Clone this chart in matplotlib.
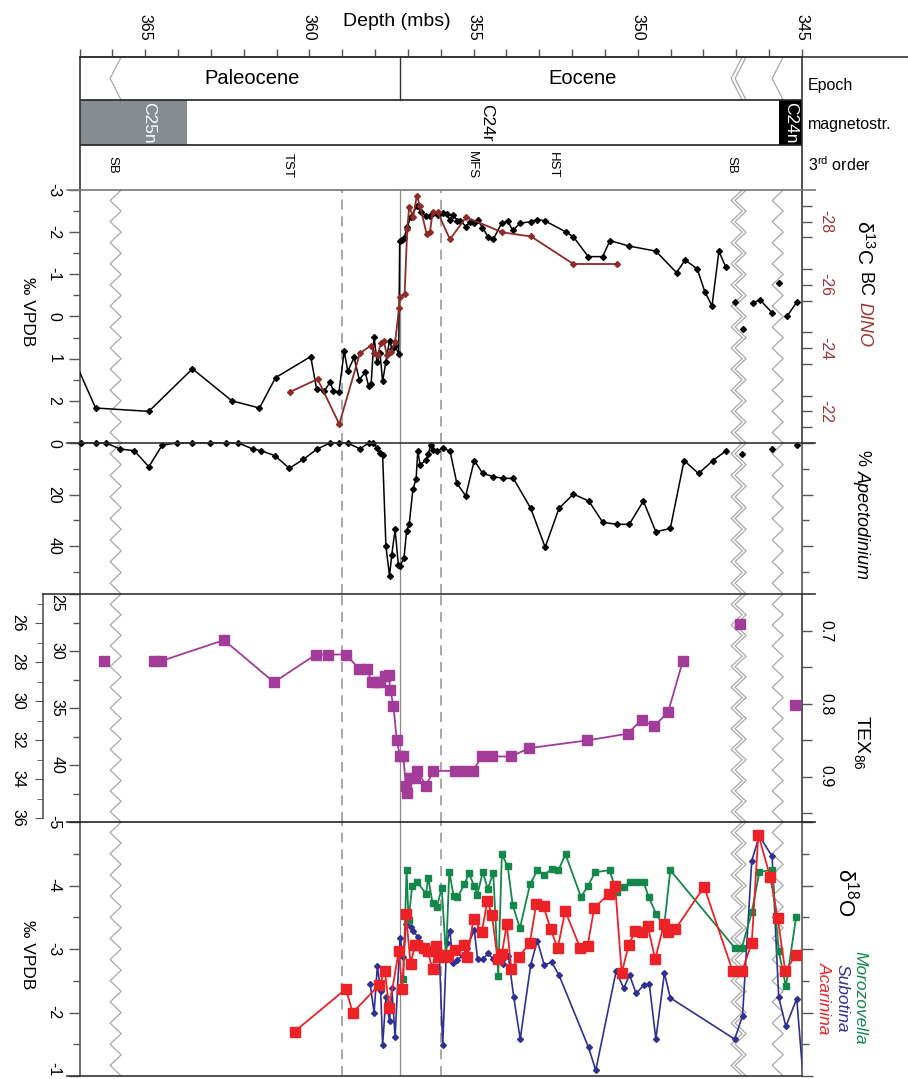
import matplotlib
matplotlib.use('Agg')
import matplotlib.pyplot as plt
import numpy as np
from matplotlib.lines import Line2D
from matplotlib.patches import Rectangle

plt.rcParams['font.family'] = ['Liberation Sans', 'DejaVu Sans']
plt.rcParams['mathtext.fontset'] = 'custom'
plt.rcParams['mathtext.rm'] = 'Liberation Sans'
plt.rcParams['mathtext.it'] = 'Liberation Sans:italic'
plt.rcParams['axes.unicode_minus'] = False

# ---------------- data ----------------
# bulk d13C (black), None = gap in the line
d13c_depth = [367.2, 366.51, 364.89, 363.56, 362.36, 361.52, 361.03, 359.96, 359.78, 359.54,
              359.37, 359.27, 359.10, 358.94, 358.83, 358.64, 358.48, 358.30, 358.20, 358.12,
              358.03, 357.94, 357.85, 357.77, 357.67, 357.56, 357.48, 357.39, 357.28, 357.25,
              357.19, 357.12, 357.02, 356.91, 356.73, 356.61, 356.46, 356.33, 356.23, 356.09,
              355.94, 355.82, 355.72, 355.62, 355.49, 355.40, 355.23, 355.11, 354.98, 354.88,
              354.73, 354.56, 354.40, 354.15, 353.96, 353.81, 353.59, 353.26, 353.06, 352.83,
              352.20, 351.96, 351.51, 351.07, 350.85, 350.26, 349.45, 348.82, 348.56, 348.19,
              347.96, 347.74, 347.53, 347.32, None, 347.04, None, 346.81, None, 346.50,
              346.27, 345.90, None, 345.69, None, 345.46, 345.16]
d13c_value = [0.96, 2.17, 2.25, 1.24, 2.00, 2.17, 1.45, 0.95, 1.72, 1.76,
              1.56, 1.76, 1.79, 0.82, 1.30, 0.97, 1.50, 1.32, 1.64, 1.60,
              0.48, 1.09, 0.87, 1.54, 1.07, 0.57, 0.78, 0.69, 0.89, -1.79,
              -1.82, -1.85, -2.12, -2.37, -2.61, -2.49, -2.39, -2.39, -2.45, -2.41,
              -2.45, -2.42, -2.29, -2.41, -2.27, -2.27, -2.13, -2.25, -2.21, -2.30,
              -2.11, -1.89, -1.83, -2.21, -2.27, -2.04, -2.21, -2.25, -2.30, -2.27,
              -2.01, -1.89, -1.42, -1.42, -1.80, -1.67, -1.55, -1.04, -1.34, -1.13,
              -0.59, -0.25, -1.55, -1.17, None, -0.34, None, 0.29, None, -0.33,
              -0.39, -0.08, None, -0.79, None, 0.00, -0.34]

# d13C of dinocysts (red, right axis)
dino_depth = [360.60, 359.75, 359.09, 358.46, 358.13, 358.03, 357.92, 357.82, 357.74, 357.64,
              357.52, 357.39, 357.27, 357.24, 357.10, 357.02, 356.96, 356.84, 356.73, 356.63,
              356.43, 356.33, 356.25, 356.09, 355.72, 355.23, 354.12, 353.25, 351.96, 350.62]
dino_value = [-22.61, -23.02, -21.60, -23.84, -24.08, -23.84, -23.79, -24.16, -24.24, -23.79,
              -23.87, -24.19, -25.28, -25.61, -25.72, -27.77, -28.47, -28.14, -28.82, -28.49,
              -27.61, -27.66, -28.29, -28.29, -27.44, -28.14, -27.66, -27.53, -26.66, -26.66]

# % Apectodinium
apec_depth = [366.95, 366.51, 366.19, 365.77, 365.33, 364.89, 364.48, 364.04, 363.56, 363.03,
              362.54, 362.16, 361.73, 361.47, 361.05, 360.61, 360.18, 359.76, 359.37, 359.10,
              358.83, 358.46, 358.20, 358.05, 357.93, 357.85, 357.77, 357.67, 357.56, 357.49,
              357.39, 357.29, 357.24, 357.12, 357.04, 356.96, 356.85, 356.75, 356.70, 356.63,
              356.45, 356.38, 356.31, 356.23, 356.11, 355.94, 355.72, 355.51, 355.24, 354.98,
              354.72, 354.40, 354.11, 353.79, 353.26, 352.82, 352.40, 351.96, 351.49, 351.07,
              350.64, 350.26, 349.83, 349.45, 349.01, 348.59, 348.15, 347.71, 347.31, None,
              346.83, None, 345.91, None, 345.15]
apec_value = [0, 0, 0, 2.3, 3.0, 9.2, 0.8, 0, 0, 0,
              0, 0, 2.3, 3.0, 4.9, 9.8, 6.3, 2.3, 0, 0,
              0, 2.3, 0, 0, 2.1, 4.0, 4.7, 39.9, 51.4, 43.2,
              33.5, 47.3, 47.5, 44.7, 34.1, 31.5, 18.0, 14.0, 3.0, 8.5,
              6.6, 4.3, 0.8, 2.7, 3.0, 2.1, 3.0, 15.6, 20.5, 6.8,
              11.8, 13.0, 13.7, 13.7, 25.3, 40.4, 25.3, 19.8, 22.5, 30.7,
              31.5, 31.5, 22.5, 34.4, 33.1, 6.8, 11.8, 6.8, 3.0, None,
              4.3, None, 2.3, None, 0.8]

# TEX86
tex_depth = [366.25, None, 364.73, 364.53, 362.60, 361.08, 359.80, 359.42, 358.88, 358.50,
             358.25, 358.10, 357.95, 357.85, 357.69, 357.59, 357.54, 357.44, 357.34, 357.24,
             357.14, 357.06, 357.02, 356.94, 356.78, 356.71, 356.45, 356.23, 355.57, 355.29,
             355.02, 354.75, 354.43, 353.86, 353.31, 351.54, 350.31, 349.88, 349.51, 349.08,
             348.63, None, 346.88, None, 345.20]
tex_value = [0.7414, None, 0.7414, 0.7414, 0.7124, 0.7703, 0.7322, 0.7322, 0.7322, 0.7515,
             0.7515, 0.7703, 0.7703, 0.7703, 0.7611, 0.7598, 0.7805, 0.8025, 0.8503, 0.8724,
             0.8724, 0.9129, 0.9221, 0.9014, 0.9014, 0.8922, 0.9129, 0.8922, 0.8922, 0.8922,
             0.8922, 0.8724, 0.8724, 0.8724, 0.8609, 0.8503, 0.8411, 0.8218, 0.8310, 0.8117,
             0.7414, None, 0.6899, None, 0.8021]

# d18O Acarinina (red)
acar_depth = [360.45, 358.89, 358.68, 357.88, 357.70, 357.57, 357.28, 357.17, 357.06, 356.92,
              356.78, 356.71, 356.50, 356.40, 356.25, 356.15, 356.05, 355.88, 355.78, 355.56,
              355.29, 355.19, 355.00, 354.75, 354.58, 354.44, 354.27, 354.14, 353.99, 353.85,
              353.63, 353.29, 353.09, 352.87, 352.65, 352.44, 352.21, 351.75, 351.53, 351.33,
              350.89, 350.69, 350.49, 350.28, 350.08, 349.88, 349.70, 349.47, 349.20, 349.07,
              348.86, 347.98, 347.11, 346.83, 346.53, 346.33, 345.97, 345.74, 345.51, 345.18]
acar_value = [-1.70, -2.37, -2.00, -2.43, -2.65, -2.07, -2.97, -2.37, -3.55, -2.77,
              -3.06, -3.06, -3.02, -2.97, -2.68, -3.04, -2.87, -2.88, -2.90, -2.98,
              -3.07, -2.87, -3.48, -3.27, -3.76, -3.53, -2.84, -2.92, -3.39, -2.68,
              -2.87, -3.09, -3.71, -3.67, -3.31, -3.01, -3.60, -3.01, -3.04, -3.64,
              -3.87, -4.00, -2.62, -3.06, -3.28, -3.26, -3.37, -2.84, -3.40, -3.27,
              -3.31, -3.98, -2.65, -2.65, -3.09, -4.80, -4.14, -3.49, -2.65, -2.91]

# d18O Morozovella (green)
moro_depth = [357.14, 357.04, 356.98, 356.87, 356.71, 356.45, 356.38, 356.25, 356.12, 355.97,
              355.84, 355.74, 355.61, 355.49, 355.28, 355.14, 354.99, 354.89, 354.72, 354.57,
              354.40, 354.25, 354.14, 353.96, 353.81, 353.59, 353.28, 353.06, 352.85, 352.62,
              352.42, 352.20, 351.73, 351.51, 351.30, 350.86, 350.64, 350.43, 350.25, 350.03,
              349.82, 349.67, 349.44, 349.20, 349.01, 347.05, 346.83, 346.53, 346.30, 345.91,
              345.71, 345.49, 345.18]
moro_value = [-2.52, -4.25, -3.45, -3.99, -4.05, -3.87, -4.12, -3.72, -3.66, -3.96,
              -2.88, -4.22, -3.84, -3.82, -4.02, -4.19, -4.00, -3.85, -4.21, -3.95,
              -4.19, -2.58, -4.49, -4.30, -3.69, -3.33, -4.02, -4.24, -4.17, -4.26,
              -4.24, -4.49, -3.82, -4.00, -4.21, -4.24, -3.89, -3.97, -4.05, -4.05,
              -4.05, -3.82, -3.55, -3.35, -4.24, -3.02, -3.02, -3.58, -4.21, -4.25,
              -2.97, -2.41, -3.50]

# d18O Subbotina (blue)
subb_depth = [358.15, 358.03, 357.93, 357.83, 357.77, 357.67, 357.56, 357.49, 357.39, 357.24,
              357.14, 357.05, 356.92, 356.84, 356.69, 356.53, 356.38, 356.23, 356.05, 355.94,
              355.82, 355.72, 355.63, 355.51, 355.33, 355.21, 354.98, 354.88, 354.72, 354.55,
              354.40, 354.27, 354.11, 353.94, 353.78, 353.58, 353.26, 353.06, 352.85, 352.62,
              352.40, 351.50, 351.28, 350.66, 350.43, 350.25, 350.05, 349.82, 349.65, 349.45,
              349.19, 349.01, 347.05, 346.81, 346.53, 346.30, 345.91, 345.71, 345.49, 345.16,
              344.90]
subb_value = [-2.45, -2.00, -2.73, -2.34, -1.49, -2.24, -1.86, -2.38, -1.61, -3.18,
              -2.88, -3.40, -3.35, -3.28, -3.19, -3.01, -2.99, -2.99, -2.99, -1.49,
              -3.09, -3.29, -2.78, -2.83, -2.89, -3.01, -3.30, -2.84, -2.84, -2.93,
              -2.84, -2.87, -2.77, -2.89, -2.25, -1.58, -2.75, -3.13, -2.75, -2.79,
              -2.59, -1.45, -1.09, -2.65, -2.38, -2.59, -2.30, -2.43, -2.45, -1.58,
              -2.62, -2.23, -1.58, -1.95, -4.39, -4.78, -4.46, -2.24, -1.78, -2.22,
              -0.55]

depth_ticks = [365, 360, 355, 350, 345]
epochs = ['Paleocene', 'Eocene']
epoch_boundary = 357.24
chrons = ['C25n', 'C24r', 'C24n']
chron_c25n_top = 363.73
chron_c24n_base = 345.70
seq_labels = ['SB', 'TST', 'MFS', 'HST', 'SB']
seq_depths = [366.01, 360.65, 355.05, 352.58, 347.16]
dashed_depths = [359.0, 356.0]
hiatus_single = [365.90, 345.74]
hiatus_double = [346.99, 346.87]


def arr(lst):
    return np.array([np.nan if v is None else v for v in lst], dtype=float)


# ---------------- layout ----------------
W, H = 908, 1079
fig = plt.figure(figsize=(W / 100, H / 100), dpi=100)
XL, XR = 79.5, 802.0
XMIN, XMAX = 367.0, 345.0
SP = '#555555'


def axes_px(top, bottom):
    ax = fig.add_axes([XL / W, 1 - bottom / H, (XR - XL) / W, (bottom - top) / H])
    ax.set_xlim(XMIN, XMAX)
    return ax


def fig_line(x0, x1, y0, y1, color='#333333', lw=1.2):
    fig.add_artist(Line2D([x0 / W, x1 / W], [1 - y0 / H, 1 - y1 / H],
                          transform=fig.transFigure, color=color, lw=lw))


def ftext(x, y, s, **kw):
    fig.text(x / W, 1 - y / H, s, **kw)


def zigzag(ax, xc, y0, y1, n, amp=0.335, trans=None, color='#a8a8a8', lw=0.9):
    ys = np.linspace(y0, y1, 2 * n + 1)
    xs = np.array([xc - amp / 2 if i % 2 == 0 else xc + amp / 2 for i in range(len(ys))])
    ax.plot(xs, ys, color=color, lw=lw, transform=trans, zorder=0.5, clip_on=False)


def style_data_axis(ax):
    ax.spines['top'].set_visible(False)
    ax.spines['bottom'].set_visible(False)
    for s in ('left', 'right'):
        ax.spines[s].set_color(SP)
        ax.spines[s].set_linewidth(1.2)
    ax.tick_params(axis='x', which='both', bottom=False, top=False,
                   labelbottom=False, labeltop=False)
    ax.tick_params(axis='y', which='major', direction='out', length=8, width=1,
                   color=SP, labelsize=11.5, pad=5)
    ax.tick_params(axis='y', which='minor', direction='out', length=5, width=1, color=SP)
    ax.patch.set_alpha(0)


def set_yt(ax, ticks, labels, color='black', minor=None):
    ax.set_yticks(ticks)
    ax.set_yticklabels(labels, rotation=-90, va='center', color=color, fontsize=11.5)
    if minor is not None:
        ax.set_yticks(minor, minor=True)


# ---------------- header ----------------
axH = axes_px(57, 190)
axH.set_ylim(190, 57)
axH.xaxis.tick_top()
axH.set_xticks(depth_ticks)
axH.set_xticklabels([str(t) for t in depth_ticks], rotation=-90, fontsize=11.5, va='bottom')
axH.set_xticks(np.arange(345, 368, 1), minor=True)
axH.tick_params(axis='x', which='both', direction='out', length=6, width=1, color=SP, pad=6)
axH.set_yticks([])
for s in ('left', 'right', 'top', 'bottom'):
    axH.spines[s].set_color('#333333')
    axH.spines[s].set_linewidth(1.2)
axH.spines['bottom'].set_visible(False)
axH.axhline(100, color='#222222', lw=1.2)
axH.axhline(145, color='#222222', lw=1.2)
axH.plot([epoch_boundary, epoch_boundary], [57, 100], color='#333333', lw=1.0)
axH.add_patch(Rectangle((XMIN, 100), chron_c25n_top - XMIN, 45, facecolor='#878c91',
                        edgecolor='none', zorder=1))
axH.add_patch(Rectangle((chron_c24n_base, 100), XMAX - chron_c24n_base, 45, facecolor='black',
                        edgecolor='none', zorder=1))
axH.text(361.75, 78, epochs[0], ha='center', va='center', fontsize=14.5)
axH.text(351.69, 78, epochs[1], ha='center', va='center', fontsize=14.5)
axH.text(364.91, 123, chrons[0], ha='center', va='center', rotation=-90, color='white', fontsize=12.5, zorder=3)
axH.text(354.59, 123, chrons[1], ha='center', va='center', rotation=-90, color='black', fontsize=12.5, zorder=3)
axH.text(345.36, 123, chrons[2], ha='center', va='center', rotation=-90, color='white', fontsize=12.5, zorder=3)
for lab, dp in zip(seq_labels, seq_depths):
    axH.text(dp, 165, lab, ha='center', va='center', rotation=-90, fontsize=9.5)
htr = axH.transData
zigzag(axH, hiatus_single[0], 57, 100, 1, trans=htr)
zigzag(axH, hiatus_single[1], 57, 100, 1, trans=htr)
zigzag(axH, hiatus_double[0], 57, 100, 1, trans=htr)
zigzag(axH, hiatus_double[1], 57, 100, 1, trans=htr)

ftext(397, 21, 'Depth (mbs)', ha='center', va='center', fontsize=14)
ftext(808, 85, 'Epoch', ha='left', va='center', fontsize=11.5)
ftext(808, 124, 'magnetostr.', ha='left', va='center', fontsize=11.5)
ftext(808, 165, '3$^{\\rm rd}$ order', ha='left', va='center', fontsize=11.5)

# ---------------- panels ----------------
panels = [(190, 443), (443, 594), (594, 822), (822, 1076)]
ax13 = axes_px(*panels[0])
axA = axes_px(*panels[1])
axT = axes_px(*panels[2])
ax18 = axes_px(*panels[3])

for ax, (top, bot) in zip([ax13, axA, axT, ax18], panels):
    style_data_axis(ax)
    tr = ax.get_xaxis_transform()
    nteeth = int(round((bot - top) / 21.0))
    zigzag(ax, hiatus_single[0], 0, 1, nteeth, trans=tr)
    zigzag(ax, hiatus_single[1], 0, 1, nteeth, trans=tr)
    zigzag(ax, hiatus_double[0], 0, 1, nteeth, trans=tr)
    zigzag(ax, hiatus_double[1], 0, 1, nteeth, trans=tr)
    for dd in dashed_depths:
        ax.axvline(dd, color='#9a9a9a', lw=1.2, dashes=(6, 4), zorder=0.4)
    ax.axvline(epoch_boundary, color='#8a8a8a', lw=0.9, zorder=0.4)

# d13C
ax13.set_ylim(3, -3)
set_yt(ax13, [-3, -2, -1, 0, 1, 2], ['-3', '-2', '-1', '0', '1', '2'],
       minor=np.arange(-2.5, 3.0, 1.0))
ax13.plot(arr(d13c_depth), arr(d13c_value), color='black', lw=1.1, marker='D', ms=3,
          zorder=3)
ax13r = ax13.twinx()
ax13r.set_ylim(-21, -29)
style_data_axis(ax13r)
ax13r.spines['left'].set_visible(False)
set_yt(ax13r, [-28, -26, -24, -22], ['-28', '-26', '-24', '-22'], color='#a0342f',
       minor=np.arange(-28.5, -21.0, 1.0))
ax13r.tick_params(axis='y', which='both', length=7)
ax13r.plot(arr(dino_depth), arr(dino_value), color='#8e2b27', lw=1.3, marker='D', ms=3,
           zorder=3)

# Apectodinium
axA.set_ylim(58.5, 0)
set_yt(axA, [0, 20, 40], ['0', '20', '40'], minor=[10, 30, 50])
axA.tick_params(axis='y', which='both', right=True)
axA.plot(arr(apec_depth), arr(apec_value), color='black', lw=1.1, marker='D', ms=3,
         zorder=3, clip_on=False)

# TEX86 (inner SST axis)
axT.set_ylim(45, 25)
set_yt(axT, [25, 30, 35, 40], ['25', '30', '35', '40'], minor=[27.5, 32.5, 37.5, 42.5])
axT.tick_params(axis='y', which='both', pad=3)
axT.get_yticklabels()[0].set_va('top')
axTo = axT.twinx()
axTo.set_ylim(36.2, 24.5)
for s in ('top', 'bottom', 'right'):
    axTo.spines[s].set_visible(False)
axTo.spines['left'].set_visible(True)
axTo.spines['left'].set_position(('outward', 26))
axTo.spines['left'].set_bounds(24.5, 36)
axTo.spines['left'].set_color(SP)
axTo.spines['left'].set_linewidth(1.2)
axTo.yaxis.set_ticks_position('left')
axTo.yaxis.set_label_position('left')
axTo.set_yticks([26, 28, 30, 32, 34, 36])
axTo.set_yticklabels(['26', '28', '30', '32', '34', '36'], rotation=-90, va='center', fontsize=11.5)
axTo.set_yticks(np.arange(25, 36, 2), minor=True)
axTo.tick_params(axis='y', which='major', direction='out', length=6, color=SP, pad=7)
axTo.tick_params(axis='y', which='minor', direction='out', length=4, color=SP)
axTo.tick_params(axis='x', which='both', bottom=False, top=False, labelbottom=False)
axTr = axT.twinx()
axTr.set_ylim(0.9625, 0.649)
style_data_axis(axTr)
axTr.spines['left'].set_visible(False)
set_yt(axTr, [0.7, 0.8, 0.9], ['0.7', '0.8', '0.9'], minor=[0.75, 0.85, 0.95])
axTr.tick_params(axis='y', which='both', length=7)
axTr.plot(arr(tex_depth), arr(tex_value), color='#a23c98', lw=1.3, marker='s', ms=6.5,
          zorder=3)

# d18O
ax18.set_ylim(-1, -5)
set_yt(ax18, [-5, -4, -3, -2, -1], ['-5', '-4', '-3', '-2', '-1'],
       minor=np.arange(-4.5, -1.0, 1.0))
ax18.get_yticklabels()[-1].set_va('bottom')
ax18.tick_params(axis='y', which='both', right=True)
ax18.plot(arr(subb_depth), arr(subb_value), color='#2e3192', lw=1.2, marker='D', ms=3,
          zorder=3)
ax18.plot(arr(moro_depth), arr(moro_value), color='#14874a', lw=1.3, marker='s', ms=5,
          zorder=4)
ax18.plot(arr(acar_depth), arr(acar_value), color='#ec2227', lw=1.3, marker='s', ms=6.5,
          zorder=5)

# separators
fig_line(XL, 908, 57, 57, color='#333333')
fig_line(67, 815, 190, 190, color='#777777')
fig_line(67, 815, 443, 443, color='#333333')
fig_line(43, 815, 594, 594, color='#333333')
fig_line(67, 815, 822, 822, color='#222222')
fig_line(67, XR, 1076, 1076, color='#333333')

# axis titles
ftext(27, 312, '‰ VPDB', rotation=-90, ha='center', va='center', fontsize=12.5)
ftext(27, 955, '‰ VPDB', rotation=-90, ha='center', va='center', fontsize=12.5)
ftext(864, 220, 'δ$^{13}$C', rotation=-90, ha='center', va='top', fontsize=15)
ftext(864, 272, 'BC', rotation=-90, ha='center', va='top', fontsize=13)
ftext(864, 302, 'DINO', rotation=-90, ha='center', va='top', fontsize=13,
      style='italic', color='#a0342f')
ftext(862, 450, '%', rotation=-90, ha='center', va='top', fontsize=13)
ftext(862, 470, 'Apectodinium', rotation=-90, ha='center', va='top', fontsize=13, style='italic')
ftext(862, 715, 'TEX$_{86}$', rotation=-90, ha='center', va='top', fontsize=14)
ftext(846, 868, 'δ$^{18}$O', rotation=-90, ha='center', va='top', fontsize=16)
ftext(860, 998, 'Morozovella', rotation=-90, ha='center', va='center', fontsize=12.5,
      style='italic', color='#14874a')
ftext(842, 998, 'Subotina', rotation=-90, ha='center', va='center', fontsize=12.5,
      style='italic', color='#2e3192')
ftext(824, 998, 'Acarinina', rotation=-90, ha='center', va='center', fontsize=12.5,
      style='italic', color='#ec2227')

fig.savefig('out.png', dpi=100)
